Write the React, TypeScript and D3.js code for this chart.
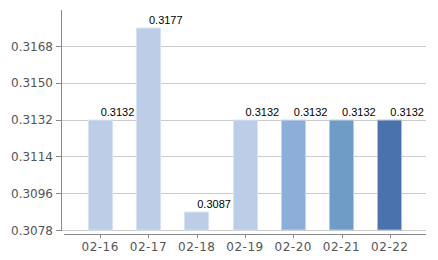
import React from "react";
import * as d3 from "d3";

const categories = ["02-16", "02-17", "02-18", "02-19", "02-20", "02-21", "02-22"];
const values = [0.3132, 0.3177, 0.3087, 0.3132, 0.3132, 0.3132, 0.3132];
const barColors = ["#bccde8", "#bccde8", "#bccde8", "#bccde8", "#8daed8", "#6f9cc6", "#4a72ad"];
const borderColors = ["#d6e1f2", "#d6e1f2", "#d6e1f2", "#d6e1f2", "#c4d4eb", "#b6cbe0", "#a9bbd6"];
const yTicks = [0.3078, 0.3096, 0.3114, 0.3132, 0.315, 0.3168];

export default function App() {
  const W = 438, H = 260;
  const x0 = 64, x1 = 426;
  const y = d3.scaleLinear().domain([0.3078, 0.3186]).range([230, 9.2]);
  const x = d3.scaleBand().domain(categories).range([x0, x1]).paddingOuter(0.25).paddingInner(0);
  const bw = 25;
  const font = "'DejaVu Sans', Verdana, sans-serif";
  return (
    <svg width={W} height={H} style={{ position: "absolute", left: 0, top: 0 }}>
      <rect width={W} height={H} fill="#fff" />
      {yTicks.map((t) => (
        <g key={t}>
          <line x1={62} x2={426} y1={Math.round(y(t)) + 0.5} y2={Math.round(y(t)) + 0.5} stroke="#cccccc" />
          <line x1={56} x2={61} y1={Math.round(y(t)) + 0.5} y2={Math.round(y(t)) + 0.5} stroke="#888" />
          <text x={53} y={y(t) + 4.5} textAnchor="end" fontFamily={font} fontSize={12} fill="#555">
            {t.toFixed(4)}
          </text>
        </g>
      ))}
      <line x1={61.5} x2={61.5} y1={10} y2={231} stroke="#888" />
      <line x1={x0} x2={x1} y1={234.5} y2={234.5} stroke="#888" />
      {categories.map((c, i) => {
        const cx = (x(c) as number) + x.bandwidth() / 2;
        const top = y(values[i]);
        return (
          <g key={c}>
            <rect x={Math.round(cx - bw / 2) + 0.5} y={top + 0.5} width={bw - 1} height={230 - top - 0.5}
              fill={barColors[i]} stroke={borderColors[i]} strokeWidth={1} />
            <line x1={Math.round(cx) + 0.5} x2={Math.round(cx) + 0.5} y1={234} y2={238} stroke="#888" />
            <text x={cx} y={251} textAnchor="middle" fontFamily={font} fontSize={12} fill="#555" letterSpacing={0.5}>
              {c}
            </text>
            <text x={cx + 0.5} y={top - 4} textAnchor="start" fontFamily="'Liberation Sans', Arial, sans-serif" fontSize={11} fill="#000">
              {values[i].toFixed(4)}
            </text>
          </g>
        );
      })}
    </svg>
  );
}
